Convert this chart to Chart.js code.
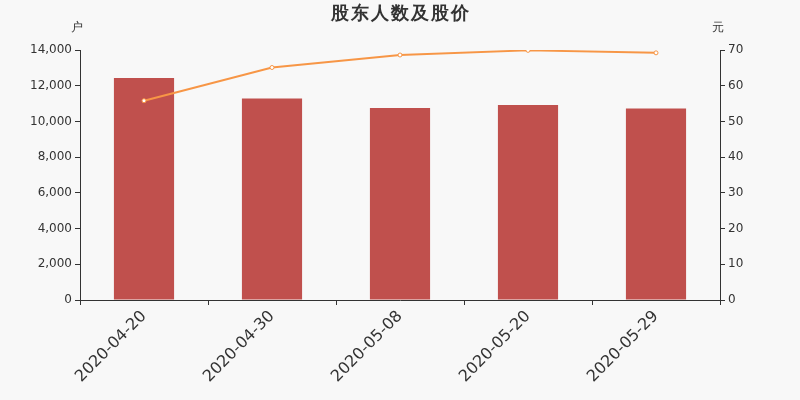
<!DOCTYPE html>
<html>
<head>
<meta charset="utf-8">
<script src="https://cdn.jsdelivr.net/npm/chart.js@4"></script>
<style>
  html, body { margin: 0; padding: 0; background: #f8f8f8; }
</style>
</head>
<body>
<canvas id="chart" width="800" height="400"></canvas>
<script>
// data
const dates = ['2020-04-20', '2020-04-30', '2020-05-08', '2020-05-20', '2020-05-29'];
const holders = [12430, 11290, 10750, 10920, 10730];
const prices = [55.8, 65.1, 68.6, 69.9, 69.2];
const leftTicks = [0, 2000, 4000, 6000, 8000, 10000, 12000, 14000];
const rightTicks = [0, 10, 20, 30, 40, 50, 60, 70];

const FONT = 'DejaVu Sans, sans-serif';

// title and the two unit labels above the axes
const labelsPlugin = {
    id: 'labels',
    afterDraw(chart) {
        const ctx = chart.ctx;
        const left = chart.scales.y;
        const right = chart.scales.y1;
        ctx.save();
        ctx.fillStyle = '#333';
        ctx.textAlign = 'center';
        ctx.textBaseline = 'middle';
        ctx.font = 'bold 18px ' + FONT;
        ctx.letterSpacing = '2px';
        ctx.fillText('股东人数及股价', 401, 14);
        ctx.letterSpacing = '0px';
        ctx.font = '12px ' + FONT;
        ctx.fillText('户', left.right - 3, 28);
        ctx.fillText('元', right.left - 2, 28);
        ctx.restore();
    }
};

const bg = {
    id: 'bg',
    beforeDraw(chart) {
        const ctx = chart.ctx;
        ctx.save();
        ctx.fillStyle = '#f8f8f8';
        ctx.fillRect(0, 0, chart.width, chart.height);
        ctx.restore();
    }
};

new Chart(document.getElementById('chart').getContext('2d'), {
    data: {
        labels: dates,
        datasets: [
            {
                type: 'line',
                data: prices,
                yAxisID: 'y1',
                borderColor: '#f79646',
                borderWidth: 2,
                pointRadius: 2,
                pointBackgroundColor: '#ffffff',
                pointBorderColor: '#f79646',
                pointBorderWidth: 1,
                tension: 0,
                order: 0
            },
            {
                type: 'bar',
                data: holders,
                yAxisID: 'y',
                backgroundColor: '#c0504d',
                barPercentage: 0.47,
                categoryPercentage: 1,
                order: 1
            }
        ]
    },
    options: {
        responsive: false,
        animation: false,
        devicePixelRatio: 1,
        layout: { padding: { top: 50, left: 0, right: 0, bottom: 0 } },
        plugins: {
            legend: { display: false },
            tooltip: { enabled: false }
        },
        scales: {
            x: {
                grid: { display: true, drawOnChartArea: false, offset: true, tickLength: 5, tickColor: '#333' },
                border: { color: '#333' },
                ticks: {
                    color: '#333',
                    font: { family: FONT, size: 16 },
                    maxRotation: 45,
                    minRotation: 45,
                    padding: 2
                },
                afterFit(s) { s.height = 100; }
            },
            y: {
                position: 'left',
                min: 0,
                max: 14000,
                afterBuildTicks(s) { s.ticks = leftTicks.map(v => ({ value: v })); },
                grid: { display: true, drawOnChartArea: false, tickLength: 5, tickColor: '#333' },
                border: { color: '#333' },
                ticks: {
                    color: '#333',
                    font: { family: FONT, size: 12 },
                    padding: 3,
                    callback: v => v.toLocaleString('en-US')
                },
                afterFit(s) { s.width = 80; }
            },
            y1: {
                position: 'right',
                min: 0,
                max: 70,
                afterBuildTicks(s) { s.ticks = rightTicks.map(v => ({ value: v })); },
                grid: { display: true, drawOnChartArea: false, tickLength: 5, tickColor: '#333' },
                border: { color: '#333' },
                ticks: {
                    color: '#333',
                    font: { family: FONT, size: 12 },
                    padding: 3
                },
                afterFit(s) { s.width = 80; }
            }
        }
    },
    plugins: [bg, labelsPlugin]
});
</script>
</body>
</html>
